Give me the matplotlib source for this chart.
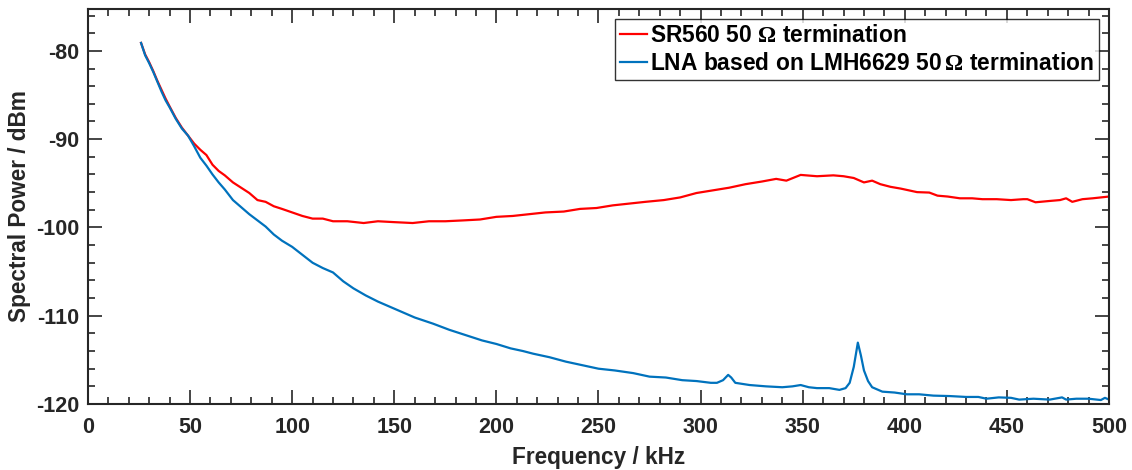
import matplotlib
matplotlib.use("Agg")
import matplotlib.pyplot as plt
from matplotlib.ticker import MultipleLocator

plt.rcParams["font.family"] = ["Liberation Sans", "DejaVu Sans"]
plt.rcParams["font.weight"] = "bold"
plt.rcParams["mathtext.fontset"] = "custom"
plt.rcParams["mathtext.rm"] = "Liberation Serif"
plt.rcParams["axes.unicode_minus"] = False

# SR560 with 50 ohm termination (kHz, dBm)
sr560_freq = [26, 28, 30, 32, 34, 36, 38, 40, 43, 46, 49, 52, 55, 58, 61, 64, 67, 71,
              75, 79, 83, 87, 91, 95, 100, 105, 110, 115, 120, 127, 135, 142, 150, 159,
              167, 175, 184, 192, 200, 208, 216, 224, 233, 241, 249, 257, 265, 273, 282,
              290, 298, 306, 314, 322, 330, 337, 342, 349, 357, 365, 370, 375, 380, 384,
              388, 393, 398, 406, 412, 416, 421, 427, 433, 438, 445, 452, 458, 460, 464,
              471, 476, 479, 482, 487, 492, 496, 500]
sr560_power = [-79.1, -80.4, -81.3, -82.3, -83.4, -84.4, -85.4, -86.3, -87.6, -88.7,
               -89.6, -90.5, -91.2, -91.8, -92.9, -93.6, -94.1, -94.9, -95.5, -96.1,
               -96.9, -97.1, -97.6, -97.9, -98.3, -98.7, -99.0, -99.0, -99.3, -99.3,
               -99.5, -99.3, -99.4, -99.5, -99.3, -99.3, -99.2, -99.1, -98.8, -98.7,
               -98.5, -98.3, -98.2, -97.9, -97.8, -97.5, -97.3, -97.1, -96.9, -96.6,
               -96.1, -95.8, -95.5, -95.1, -94.8, -94.5, -94.7, -94.05, -94.2, -94.1,
               -94.2, -94.4, -94.9, -94.7, -95.1, -95.4, -95.6, -96.0, -96.05, -96.4,
               -96.5, -96.7, -96.7, -96.8, -96.8, -96.9, -96.8, -96.8, -97.15, -97.0,
               -96.9, -96.7, -97.1, -96.8, -96.7, -96.6, -96.5]

# LNA based on LMH6629 with 50 ohm termination
lna_freq = [26, 28, 30, 32, 34, 36, 38, 40, 43, 46, 49, 52, 55, 58, 61, 64, 67, 71, 75,
            79, 83, 87, 91, 95, 100, 105, 110, 115, 120, 125, 130, 136, 142, 148, 153,
            160, 169, 177, 185, 193, 200, 207, 213, 218, 226, 234, 242, 250, 258, 267,
            275, 283, 291, 298, 305, 308, 311, 313.5, 315, 317, 324, 332, 340, 345, 349,
            353, 357, 363, 368, 371, 373, 375, 377, 378.5, 380, 382, 384, 389, 395, 401,
            407, 414, 422, 430, 436, 440, 446, 452, 456, 463, 471, 477, 479, 484, 490,
            496, 498, 500]
lna_power = [-79.1, -80.5, -81.4, -82.4, -83.5, -84.6, -85.6, -86.4, -87.7, -88.8,
             -89.6, -90.8, -92.1, -93.0, -94.0, -94.9, -95.7, -96.9, -97.7, -98.5,
             -99.2, -99.9, -100.8, -101.5, -102.2, -103.1, -104.0, -104.6, -105.1,
             -106.1, -106.9, -107.7, -108.4, -109.0, -109.5, -110.2, -110.9, -111.6,
             -112.2, -112.8, -113.2, -113.7, -114.0, -114.3, -114.7, -115.2, -115.6,
             -116.0, -116.2, -116.5, -116.9, -117.0, -117.3, -117.4, -117.6, -117.6,
             -117.3, -116.7, -117.0, -117.6, -117.85, -118.0, -118.1, -118.0, -117.85,
             -118.1, -118.2, -118.2, -118.4, -118.2, -117.6, -115.8, -113.05, -114.5,
             -116.2, -117.4, -118.1, -118.6, -118.7, -118.9, -118.9, -119.05, -119.1,
             -119.2, -119.2, -119.4, -119.25, -119.3, -119.5, -119.4, -119.5, -119.25,
             -119.5, -119.4, -119.4, -119.55, -119.3, -119.5]

fig = plt.figure(figsize=(11.32, 4.70), dpi=100)
ax = fig.add_axes([0.0777, 0.1404, 0.902, 0.8406])

ax.plot(sr560_freq, sr560_power, color="#FF0000", lw=1.6,
        label=r"SR560 50 $\Omega$ termination")
ax.plot(lna_freq, lna_power, color="#0072BD", lw=1.6,
        label=r"LNA based on LMH6629 50$\,\Omega$ termination")

ax.set_xlim(0, 500)
ax.set_ylim(-120, -75.25)
ax.xaxis.set_major_locator(MultipleLocator(50))
ax.xaxis.set_minor_locator(MultipleLocator(10))
ax.yaxis.set_major_locator(MultipleLocator(10))
ax.yaxis.set_minor_locator(MultipleLocator(2))
ax.tick_params(which="both", direction="in", top=True, right=True,
               colors="#262626", width=1.2, labelsize=15.5, pad=6)
ax.tick_params(axis="x", which="major", pad=9)
ax.tick_params(which="major", length=10)
ax.tick_params(which="minor", length=5)
for s in ax.spines.values():
    s.set_linewidth(1.5)
    s.set_color("#262626")

ax.set_xlabel("Frequency / kHz", fontsize=16.3, fontweight="bold", color="#262626", labelpad=6)
ax.set_ylabel("Spectral Power / dBm", fontsize=16.3, fontweight="bold", color="#262626", labelpad=4)

leg = ax.legend(loc="upper right", fontsize=16.4, frameon=True, fancybox=False,
                edgecolor="black", handlelength=1.2, handletextpad=0.15,
                borderpad=0.2, labelspacing=0.25, borderaxespad=0.45)
leg.get_frame().set_linewidth(1.0)

fig.savefig("out.png", dpi=100)
